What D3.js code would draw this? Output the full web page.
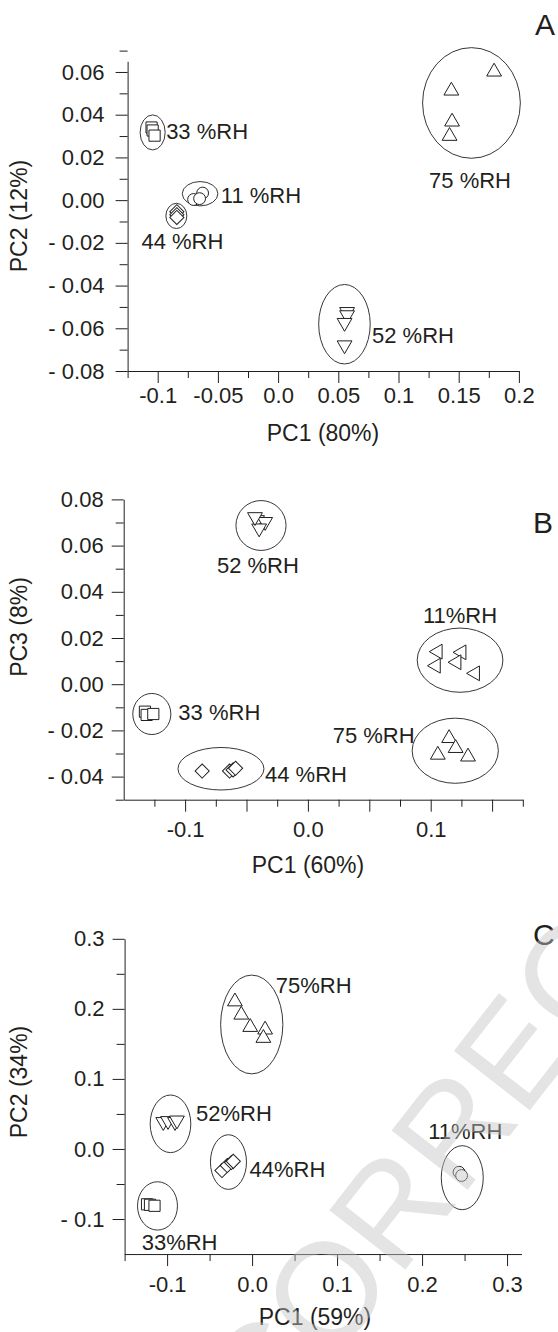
<!DOCTYPE html>
<html>
<head>
<meta charset="utf-8">
<script src="https://cdn.jsdelivr.net/npm/d3@7"></script>
<style>
body { margin: 0; background: #fff; }
svg text { font-family: "Liberation Sans", Arial, sans-serif; }
</style>
</head>
<body>
<svg id="chart" width="558" height="1332"></svg>
<script>
'use strict';

//Scores. g = humidity group.
//Panel A: PC1 (80%) vs PC2 (12%).
const pointsA = [
	{g: '75', x: 0.1794, y: 0.0601}, {g: '75', x: 0.1439, y: 0.0512},
	{g: '75', x: 0.1445, y: 0.0367}, {g: '75', x: 0.1424, y: 0.0300},
	{g: '33', x: -0.1051, y: 0.0340}, {g: '33', x: -0.1042, y: 0.0326},
	{g: '33', x: -0.1026, y: 0.0302},
	{g: '11', x: -0.0627, y: 0.0033}, {g: '11', x: -0.0702, y: 0.0003},
	{g: '11', x: -0.0652, y: 0.0007},
	{g: '44', x: -0.0841, y: -0.0054}, {g: '44', x: -0.0841, y: -0.0068},
	{g: '44', x: -0.0841, y: -0.0081},
	{g: '52', x: 0.0573, y: -0.0523}, {g: '52', x: 0.0573, y: -0.0538},
	{g: '52', x: 0.0552, y: -0.0574}, {g: '52', x: 0.0552, y: -0.0679}
];
//Group ellipses: centre and radii in score units.
const ellipsesA = [
	{g: '75', cx: 0.1606, cy: 0.0455, rx: 0.0406, ry: 0.0259},
	{g: '33', cx: -0.1042, cy: 0.0317, rx: 0.0104, ry: 0.0082},
	{g: '11', cx: -0.0648, cy: 0.0030, rx: 0.0148, ry: 0.0057},
	{g: '44', cx: -0.0845, cy: -0.0074, rx: 0.0087, ry: 0.0059},
	{g: '52', cx: 0.0551, cy: -0.0581, rx: 0.0214, ry: 0.0186}
];
const labelsA = [
	{text: '75 %RH', x: 0.1594, y: 0.0055, anchor: 'middle'},
	{text: '33 %RH', x: -0.0930, y: 0.0286, anchor: 'start'},
	{text: '11 %RH', x: -0.0476, y: -0.0012, anchor: 'start'},
	{text: '44 %RH', x: -0.1135, y: -0.0229, anchor: 'start'},
	{text: '52 %RH', x: 0.0780, y: -0.0670, anchor: 'start'}
];
const xTicksA = [-0.1, -0.05, 0, 0.05, 0.1, 0.15, 0.2];
const xTickLabelsA = ['-0.1', '-0.05', '0.0', '0.05', '0.1', '0.15', '0.2'];
const yTicksA = [0.06, 0.04, 0.02, 0, -0.02, -0.04, -0.06, -0.08];
const yTickLabelsA = ['0.06', '0.04', '0.02', '0.00', '- 0.02', '- 0.04', '- 0.06', '- 0.08'];

//Panel B: PC1 (60%) vs PC3 (8%).
const pointsB = [
	{g: '52', x: -0.0414, y: 0.0711}, {g: '52', x: -0.0348, y: 0.0703},
	{g: '52', x: -0.0397, y: 0.0675}, {g: '52', x: -0.0431, y: 0.0724},
	{g: '11', x: 0.1058, y: 0.0141}, {g: '11', x: 0.1252, y: 0.0138},
	{g: '11', x: 0.1043, y: 0.0080}, {g: '11', x: 0.1211, y: 0.0095},
	{g: '11', x: 0.1362, y: 0.0047},
	{g: '75', x: 0.1150, y: -0.0234}, {g: '75', x: 0.1203, y: -0.0277},
	{g: '75', x: 0.1058, y: -0.0306}, {g: '75', x: 0.1304, y: -0.0314},
	{g: '33', x: -0.1327, y: -0.0119}, {g: '33', x: -0.1313, y: -0.0133},
	{g: '33', x: -0.1259, y: -0.0129},
	{g: '44', x: -0.0861, y: -0.0376}, {g: '44', x: -0.0638, y: -0.0376},
	{g: '44', x: -0.0609, y: -0.0371}, {g: '44', x: -0.0589, y: -0.0364}
];
const ellipsesB = [
	{g: '52', cx: -0.0382, cy: 0.0687, rx: 0.0204, ry: 0.0108},
	{g: '11', cx: 0.1239, cy: 0.0104, rx: 0.0349, ry: 0.0139},
	{g: '75', cx: 0.1200, cy: -0.0288, rx: 0.0351, ry: 0.0141},
	{g: '33', cx: -0.1271, cy: -0.0129, rx: 0.0155, ry: 0.0089},
	{g: '44', cx: -0.0708, cy: -0.0366, rx: 0.0350, ry: 0.0092}
];
const labelsB = [
	{text: '52 %RH', x: -0.0407, y: 0.0480, anchor: 'middle'},
	{text: '11%RH', x: 0.1239, y: 0.0264, anchor: 'middle'},
	{text: '75 %RH', x: 0.0869, y: -0.0256, anchor: 'end'},
	{text: '33 %RH', x: -0.1055, y: -0.0153, anchor: 'start'},
	{text: '44 %RH', x: -0.0349, y: -0.0422, anchor: 'start'}
];
const xTicksB = [-0.1, 0, 0.1];
const xTickLabelsB = ['-0.1', '0.0', '0.1'];
const yTicksB = [0.08, 0.06, 0.04, 0.02, 0, -0.02, -0.04];
const yTickLabelsB = ['0.08', '0.06', '0.04', '0.02', '0.00', '- 0.02', '- 0.04'];

//Panel C: PC1 (59%) vs PC2 (34%).
const pointsC = [
	{g: '75', x: -0.0202, y: 0.2104}, {g: '75', x: -0.0127, y: 0.1915},
	{g: '75', x: -0.0022, y: 0.1739}, {g: '75', x: 0.0153, y: 0.1702},
	{g: '75', x: 0.0133, y: 0.1583},
	{g: '52', x: -0.1045, y: 0.0387}, {g: '52', x: -0.0989, y: 0.0401},
	{g: '52', x: -0.0907, y: 0.0387}, {g: '52', x: -0.0884, y: 0.0409},
	{g: '44', x: -0.0354, y: -0.0308}, {g: '44', x: -0.0292, y: -0.0237},
	{g: '44', x: -0.0242, y: -0.0194}, {g: '44', x: -0.0221, y: -0.0177},
	{g: '33', x: -0.1236, y: -0.0790}, {g: '33', x: -0.1201, y: -0.0797},
	{g: '33', x: -0.1148, y: -0.0811},
	{g: '11', x: 0.2435, y: -0.0332}, {g: '11', x: 0.2465, y: -0.0379}
];
const ellipsesC = [
	{g: '75', cx: -0.0004, cy: 0.1777, rx: 0.0366, ry: 0.0705},
	{g: '52', cx: -0.0960, cy: 0.0359, rx: 0.0239, ry: 0.0411},
	{g: '44', cx: -0.0278, cy: -0.0187, rx: 0.0212, ry: 0.0390},
	{g: '33', cx: -0.1113, cy: -0.0813, rx: 0.0235, ry: 0.0345},
	{g: '11', cx: 0.2473, cy: -0.0410, rx: 0.0247, ry: 0.0457}
];
const labelsC = [
	{text: '75%RH', x: 0.0279, y: 0.2231, anchor: 'start'},
	{text: '52%RH', x: -0.0660, y: 0.0394, anchor: 'start'},
	{text: '44%RH', x: -0.0030, y: -0.0394, anchor: 'start'},
	{text: '33%RH', x: -0.1299, y: -0.1438, anchor: 'start'},
	{text: '11%RH', x: 0.2508, y: 0.0142, anchor: 'middle'}
];
const xTicksC = [-0.1, 0, 0.1, 0.2, 0.3];
const xTickLabelsC = ['-0.1', '0.0', '0.1', '0.2', '0.3'];
const yTicksC = [0.3, 0.2, 0.1, 0, -0.1];
const yTickLabelsC = ['0.3', '0.2', '0.1', '0.0', '- 0.1'];

const ink = '#231f20';
const svg = d3.select('#chart');

//Marker look for each group. Panel B draws 11 %RH as left-pointing triangles.
const markerStyle = {
	circle: {type: d3.symbolCircle, size: 110, rot: 0},
	square: {type: d3.symbolSquare, size: 125, rot: 0},
	diamond: {type: d3.symbolSquare, size: 100, rot: 45},
	up: {type: d3.symbolTriangle, size: 95, rot: 0},
	down: {type: d3.symbolTriangle, size: 95, rot: 180},
	left: {type: d3.symbolTriangle, size: 95, rot: -90}
};

function drawPanel(p) {
	const x = d3.scaleLinear().domain(p.xDomain).range(p.xRange);
	const y = d3.scaleLinear().domain(p.yDomain).range(p.yRange);
	const g = svg.append('g');

	//Ellipses round each group.
	g.selectAll('ellipse')
		.data(p.ellipses)
		.join('ellipse')
		.attr('cx', (d) => x(d.cx))
		.attr('cy', (d) => y(d.cy))
		.attr('rx', (d) => x(d.cx + d.rx) - x(d.cx))
		.attr('ry', (d) => y(d.cy) - y(d.cy + d.ry))
		.attr('fill', 'none')
		.attr('stroke', ink)
		.attr('stroke-width', 0.9);

	//Open markers, white filled so overlaps hide the ones behind.
	g.selectAll('path.pt')
		.data(p.points)
		.join('path')
		.attr('class', 'pt')
		.attr('d', (d) => {
			const m = markerStyle[p.shapes[d.g]];
			return d3.symbol().type(m.type).size(m.size)();
		})
		.attr('transform', (d) => `translate(${x(d.x)},${y(d.y)}) rotate(${markerStyle[p.shapes[d.g]].rot})`)
		.attr('fill', '#fff')
		.attr('stroke', ink)
		.attr('stroke-width', 1);

	//Group labels.
	g.selectAll('text.lab')
		.data(p.labels)
		.join('text')
		.attr('class', 'lab')
		.attr('x', (d) => x(d.x))
		.attr('y', (d) => y(d.y))
		.attr('text-anchor', (d) => d.anchor)
		.attr('font-size', 22)
		.attr('fill', ink)
		.text((d) => d.text);

	//x axis: labelled ticks, then unlabelled minor ticks.
	const xg = g.append('g')
		.attr('transform', `translate(0,${p.yRange[0]})`)
		.call(d3.axisBottom(x).tickValues(p.xTicks).tickFormat((d, i) => p.xLabels[i])
			.tickSize(12).tickSizeOuter(0).tickPadding(p.xPad));
	g.append('g')
		.attr('transform', `translate(0,${p.yRange[0]})`)
		.call(d3.axisBottom(x).tickValues(p.xMinor).tickFormat('').tickSize(7).tickSizeOuter(0))
		.call((s) => s.select('.domain').remove());
	if (p.xMid) {
		g.append('g')
			.attr('transform', `translate(0,${p.yRange[0]})`)
			.call(d3.axisBottom(x).tickValues(p.xMid).tickFormat('').tickSize(12).tickSizeOuter(0))
			.call((s) => s.select('.domain').remove());
	}
	//y axis.
	const yg = g.append('g')
		.attr('transform', `translate(${p.xRange[0]},0)`)
		.call(d3.axisLeft(y).tickValues(p.yTicks).tickFormat((d, i) => p.yLabels[i])
			.tickSize(12).tickSizeOuter(0).tickPadding(p.yPad));
	g.append('g')
		.attr('transform', `translate(${p.xRange[0]},0)`)
		.call(d3.axisLeft(y).tickValues(p.yMinor).tickFormat('').tickSize(8).tickSizeOuter(0))
		.call((s) => s.select('.domain').remove());

	g.selectAll('.domain, .tick line').attr('stroke', ink).attr('stroke-width', 1);
	[xg, yg].forEach((a) => a.attr('font-size', 22).attr('font-family', null)
		.selectAll('text').attr('fill', ink).style('white-space', 'pre'));

	//Axis titles.
	g.append('text')
		.attr('x', p.xTitlePos[0])
		.attr('y', p.xTitlePos[1])
		.attr('text-anchor', 'middle')
		.attr('font-size', 23)
		.attr('fill', ink)
		.text(p.xTitle);
	g.append('text')
		.attr('transform', `translate(${p.yTitlePos[0]},${p.yTitlePos[1]}) rotate(-90)`)
		.attr('text-anchor', 'middle')
		.attr('font-size', 23)
		.attr('fill', ink)
		.text(p.yTitle);
	//Panel letter.
	g.append('text')
		.attr('x', p.letterPos[0])
		.attr('y', p.letterPos[1])
		.attr('font-size', 30)
		.attr('fill', ink)
		.text(p.letter);
}

drawPanel({
	points: pointsA, ellipses: ellipsesA, labels: labelsA,
	shapes: {'11': 'circle', '33': 'square', '44': 'diamond', '52': 'down', '75': 'up'},
	xDomain: [-0.125, 0.2], xRange: [127.6, 518.9],
	yDomain: [-0.08, 0.065], yRange: [371, 61.3],
	xTicks: xTicksA, xLabels: xTickLabelsA, xMinor: d3.range(-0.125, 0.2, 0.05), xPad: 4,
	yTicks: yTicksA, yLabels: yTickLabelsA, yMinor: d3.range(-0.07, 0.07, 0.02), yPad: 11,
	xTitle: 'PC1 (80%)', xTitlePos: [323, 441],
	yTitle: 'PC2 (12%)', yTitlePos: [27, 216],
	letter: 'A', letterPos: [535, 35]
});

drawPanel({
	points: pointsB, ellipses: ellipsesB, labels: labelsB,
	shapes: {'11': 'left', '33': 'square', '44': 'diamond', '52': 'down', '75': 'up'},
	xDomain: [-0.15, 0.175], xRange: [123.7, 522.8],
	yDomain: [-0.05, 0.08], yRange: [799.7, 499.4],
	xTicks: xTicksB, xLabels: xTickLabelsB, xMinor: d3.range(-0.125, 0.18, 0.05), xPad: 10,
	xMid: [-0.05, 0.05, 0.15],
	yTicks: yTicksB, yLabels: yTickLabelsB, yMinor: d3.range(-0.05, 0.08, 0.02), yPad: 8,
	xTitle: 'PC1 (60%)', xTitlePos: [308, 873],
	yTitle: 'PC3 (8%)', yTitlePos: [27, 627],
	letter: 'B', letterPos: [533, 533]
});

drawPanel({
	points: pointsC, ellipses: ellipsesC, labels: labelsC,
	shapes: {'11': 'circle', '33': 'square', '44': 'diamond', '52': 'down', '75': 'up'},
	xDomain: [-0.15, 0.317], xRange: [124.6, 521.5],
	yDomain: [-0.15, 0.3], yRange: [1254.05, 938.8],
	xTicks: xTicksC, xLabels: xTickLabelsC, xMinor: d3.range(-0.15, 0.3, 0.1), xPad: 10,
	yTicks: yTicksC, yLabels: yTickLabelsC, yMinor: d3.range(-0.05, 0.3, 0.1), yPad: 8,
	xTitle: 'PC1 (59%)', xTitlePos: [315, 1325],
	yTitle: 'PC2 (34%)', yTitlePos: [27, 1082],
	letter: 'C', letterPos: [533, 945]
});

//Faint proof watermark across panel C.
svg.append('text')
	.attr('transform', 'translate(269,1444) rotate(-52)')
	.attr('font-size', 140)
	.attr('fill', '#c4c4c4')
	.attr('opacity', 0.45)
	.text('CORRECTED');
</script>
</body>
</html>
